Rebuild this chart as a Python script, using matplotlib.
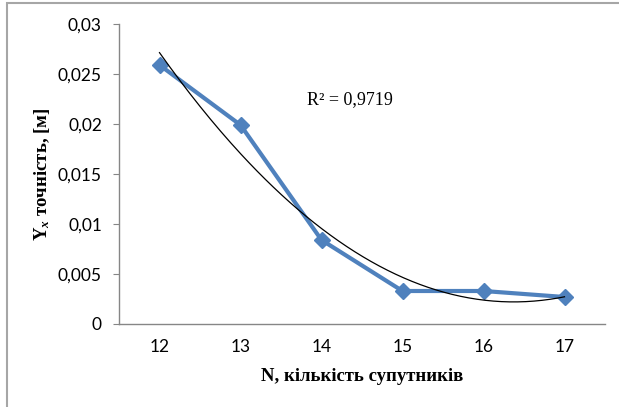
import numpy as np
import matplotlib
matplotlib.use("Agg")
import matplotlib.pyplot as plt
from matplotlib.patches import Rectangle

# data
satellites = [12, 13, 14, 15, 16, 17]
accuracy = [0.0259, 0.0199, 0.0084, 0.0033, 0.0033, 0.0027]
y_ticks = [0, 0.005, 0.01, 0.015, 0.02, 0.025, 0.03]
y_tick_labels = ["0", "0,005", "0,01", "0,015", "0,02", "0,025", "0,03"]
r2_label = "R² = 0,9719"

plt.rcParams['mathtext.fontset'] = 'custom'
plt.rcParams['mathtext.rm'] = 'Liberation Serif:bold'
plt.rcParams['mathtext.it'] = 'Liberation Serif:bold:italic'
plt.rcParams['mathtext.bf'] = 'Liberation Serif:bold'

fig = plt.figure(figsize=(6.19, 4.07), dpi=100)
fig.patch.set_facecolor("white")
# outer chart frame (left/top visible)
fig.patches.append(Rectangle((7/619, -0.05), 1.2, 1 - 3/407 + 0.05,
                             transform=fig.transFigure, fill=False,
                             edgecolor="#a6a6a6", linewidth=1.5))

ax = fig.add_axes([119/619, 1 - 324/407, (605 - 119)/619, 300/407])

x = np.array(satellites, dtype=float)
y = np.array(accuracy)
ax.plot(x, y, color="#4F81BD", linewidth=3, marker="D", markersize=8,
        markerfacecolor="#4F81BD", markeredgecolor="#4F81BD", zorder=3)

coef = np.polyfit(x, y, 2)
xs = np.linspace(x.min(), x.max(), 200)
ax.plot(xs, np.polyval(coef, xs), color="black", linewidth=0.9, zorder=4)

ax.set_xlim(11.5, 17.5)
ax.set_ylim(0, 0.03)
ax.set_xticks(satellites)
ax.set_xticklabels([str(s) for s in satellites], fontfamily="Lato", fontsize=12.5)
ax.set_yticks(y_ticks)
ax.set_yticklabels(y_tick_labels, fontfamily="Lato", fontsize=12.5)
ax.tick_params(axis="x", length=0, pad=11)
ax.tick_params(axis="y", length=4.3, direction="out", color="#868686", pad=8)

for s in ["top", "right"]:
    ax.spines[s].set_visible(False)
for s in ["left", "bottom"]:
    ax.spines[s].set_color("#868686")
    ax.spines[s].set_linewidth(1.0)

ax.text(13.82, 0.0224, r2_label, fontfamily="Liberation Serif", fontsize=13,
        va="center", ha="left")

ax.set_xlabel("N, кількість супутників", fontfamily="Liberation Serif",
              fontweight="bold", fontsize=13.5, labelpad=9)
ax.set_ylabel(r"Y$_{x}$ точність, [м]", fontfamily="Liberation Serif",
              fontweight="bold", fontsize=13.5, labelpad=4)

fig.savefig("out.png", dpi=100, facecolor="white")
